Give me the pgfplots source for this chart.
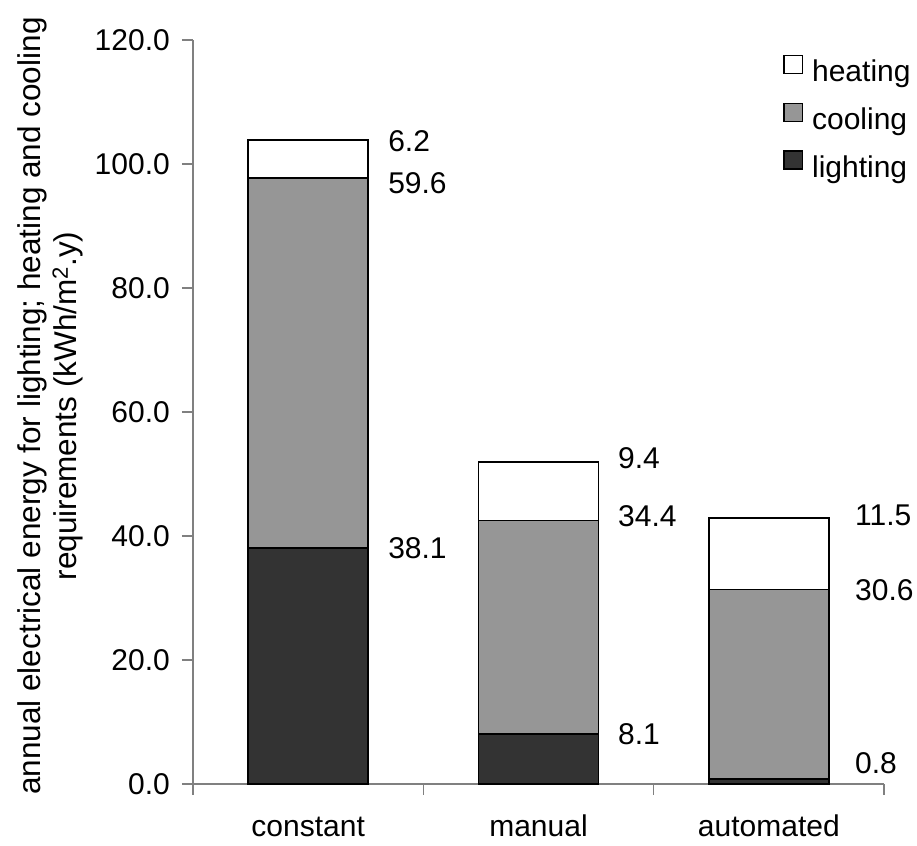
\documentclass[border=0pt]{standalone}
\usepackage{pgfplots}
\pgfplotsset{compat=1.18}
\usepackage{fontspec}
\setmainfont{Liberation Sans}

\definecolor{lightdark}{HTML}{333333}
\definecolor{coolgray}{HTML}{969696}
\definecolor{axisgray}{HTML}{808080}

\pgfplotsset{
  sqlegend/.style={legend image code/.code={%
    \draw[##1, line width=1.3pt] (0pt,0.5pt) rectangle (18.5pt,18.5pt);}},
}

\begin{document}
\fontsize{30}{36}\selectfont
\begin{tikzpicture}
\begin{axis}[
  scale only axis,
  width=691pt, height=744pt,
  clip=false,
  ybar stacked,
  bar width=0.52,
  xmin=-0.5, xmax=2.5,
  ymin=0, ymax=120,
  axis x line*=bottom,
  axis y line*=left,
  axis line style={axisgray, line width=1.3pt},
  tick style={axisgray, line width=1.3pt},
  tick align=outside,
  major tick length=11pt,
  xtick={-0.5,0.5,1.5,2.5},
  x tick label as interval,
  xticklabels={constant,manual,automated},
  ytick={0,20,...,120},
  yticklabel style={/pgf/number format/fixed, /pgf/number format/fixed zerofill,
    /pgf/number format/precision=1, xshift=-2pt},
  /pgf/number format/assume math mode=true,
  xticklabel style={inner sep=0pt, text height=22pt, text depth=0pt, yshift=-19pt},
  ylabel={annual electrical energy for lighting; heating and cooling\\requirements (kWh/m\textsuperscript{2}.y)},
  ylabel style={align=center, font=\fontsize{31.5}{36}\selectfont,
    at={(ticklabel cs:0.508)}},
  ylabel shift=-9pt,
  reverse legend,
  legend style={at={(0.854,0.980)}, anchor=north west, draw=none, fill=none,
    inner sep=0pt, row sep=14pt, font=\fontsize{30}{36}\selectfont,
    nodes={inner sep=0pt, text height=22pt, text depth=7pt},
    /tikz/every odd column/.append style={column sep=9pt}},
  legend cell align=left,
]
\addplot[fill=lightdark, draw=black, line width=1.6pt, sqlegend] coordinates {(0,38.1) (1,8.1) (2,0.8)};
\addplot[fill=coolgray, draw=black, line width=1.6pt, sqlegend] coordinates {(0,59.6) (1,34.4) (2,30.6)};
\addplot[fill=white, draw=black, line width=1.6pt, sqlegend] coordinates {(0,6.2) (1,9.4) (2,11.5)};
\legend{lighting,cooling,heating}

% value labels beside each segment
\node[anchor=west, inner sep=0pt] at (axis cs:0.347,103.6) {6.2};
\node[anchor=west, inner sep=0pt] at (axis cs:0.347,96.9) {59.6};
\node[anchor=west, inner sep=0pt] at (axis cs:0.347,38.1) {38.1};
\node[anchor=west, inner sep=0pt] at (axis cs:1.345,52.6) {9.4};
\node[anchor=west, inner sep=0pt] at (axis cs:1.345,43.2) {34.4};
\node[anchor=west, inner sep=0pt] at (axis cs:1.345,8.1) {8.1};
\node[anchor=west, inner sep=0pt] at (axis cs:2.374,43.4) {11.5};
\node[anchor=west, inner sep=0pt] at (axis cs:2.374,31.3) {30.6};
\node[anchor=west, inner sep=0pt] at (axis cs:2.374,3.4) {0.8};

\coordinate (o) at (rel axis cs:0,0);
\end{axis}
\pgfresetboundingbox
\path[use as bounding box] (o) ++(-193pt,-61pt) rectangle ++(917pt,845pt);
\end{tikzpicture}
\end{document}
